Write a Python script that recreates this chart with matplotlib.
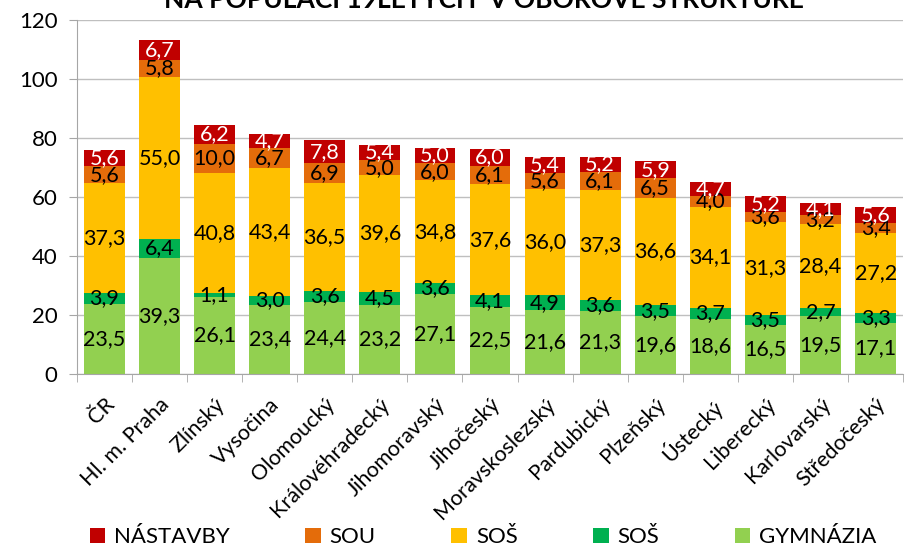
import numpy as np
import matplotlib.pyplot as plt

plt.rcParams['font.family'] = ['Lato', 'DejaVu Sans']

##Data
kraje = ['ČR', 'Hl. m. Praha', 'Zlínský', 'Vysočina', 'Olomoucký', 'Královéhradecký',
         'Jihomoravský', 'Jihočeský', 'Moravskoslezský', 'Pardubický', 'Plzeňský',
         'Ústecký', 'Liberecký', 'Karlovarský', 'Středočeský']
gymnazia = [23.5, 39.3, 26.1, 23.4, 24.4, 23.2, 27.1, 22.5, 21.6, 21.3, 19.6, 18.6, 16.5, 19.5, 17.1]
sos_green = [3.9, 6.4, 1.1, 3.0, 3.6, 4.5, 3.6, 4.1, 4.9, 3.6, 3.5, 3.7, 3.5, 2.7, 3.3]
sos_yellow = [37.3, 55.0, 40.8, 43.4, 36.5, 39.6, 34.8, 37.6, 36.0, 37.3, 36.6, 34.1, 31.3, 28.4, 27.2]
sou = [5.6, 5.8, 10.0, 6.7, 6.9, 5.0, 6.0, 6.1, 5.6, 6.1, 6.5, 4.0, 3.6, 3.2, 3.4]
nastavby = [5.6, 6.7, 6.2, 4.7, 7.8, 5.4, 5.0, 6.0, 5.4, 5.2, 5.9, 4.7, 5.2, 4.1, 5.6]

series = [('GYMNÁZIA', gymnazia, '#92D050', 'black'),
          ('SOŠ', sos_green, '#00B050', 'black'),
          ('SOŠ', sos_yellow, '#FFC000', 'black'),
          ('SOU', sou, '#E46C0A', 'black'),
          ('NÁSTAVBY', nastavby, '#C00000', 'white')]

fig = plt.figure(figsize=(9.15, 5.51), dpi=100)
ax = fig.add_axes([0.084, 0.322, 0.903, 0.642])

x = np.arange(len(kraje))
bottom = np.zeros(len(kraje))
handles = []
for name, vals, col, tcol in series:
    vals = np.array(vals)
    b = ax.bar(x, vals, 0.74, bottom=bottom, color=col, label=name, zorder=2)
    handles.append(b)
    for xi, v, bt in zip(x, vals, bottom):
        ax.text(xi, bt + v / 2, ('%.1f' % v).replace('.', ','), ha='center', va='center',
                fontsize=15.5, color=tcol, zorder=3)
    bottom = bottom + vals

ax.set_xlim(-0.5, len(kraje) - 0.5)
ax.set_ylim(0, 120)
ax.set_yticks(range(0, 121, 20))
ax.yaxis.grid(True, color='#BFBFBF', linewidth=1, zorder=0)
for s in ['top', 'right']:
    ax.spines[s].set_visible(False)
ax.spines['left'].set_color('#A6A6A6')
ax.spines['bottom'].set_color('#A6A6A6')
ax.tick_params(axis='y', labelsize=16, color='#A6A6A6', length=6, pad=8)
ax.set_xticks(x)
ax.set_xticklabels(kraje, rotation=45, ha='right', rotation_mode='anchor', fontsize=15.5)
ax.set_xticks(np.arange(-0.5, len(kraje), 1), minor=True)
ax.tick_params(axis='x', which='major', length=0, pad=15)
ax.tick_params(axis='x', which='minor', length=6, color='#A6A6A6')

fig.text(0.529, 0.985, 'NA POPULACI 19LETÝCH  V OBOROVÉ STRUKTUŘE', ha='center', va='baseline',
         fontsize=19, fontweight='bold')

fig.legend(handles[::-1], [s[0] for s in series][::-1], loc='center',
           bbox_to_anchor=(0.528, 0.025), ncol=5, frameon=False, fontsize=16,
           handlelength=0.7, handleheight=0.7, columnspacing=3.4, handletextpad=0.4,
           borderpad=0, borderaxespad=0)

plt.savefig('out.png', dpi=100)
